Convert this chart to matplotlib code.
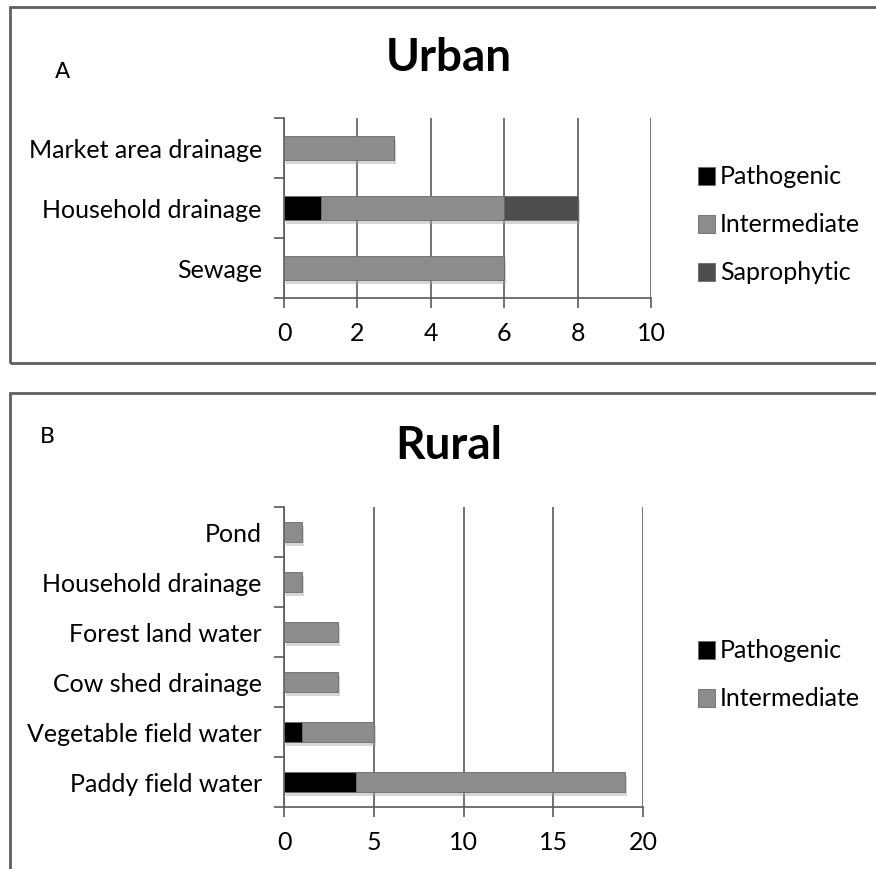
import numpy as np
import matplotlib.pyplot as plt
from matplotlib.patches import Rectangle, Patch
import matplotlib.patheffects as pe

plt.rcParams['font.family'] = ['Lato', 'DejaVu Sans']

# Urban data (bottom to top)
urban_categories = ["Sewage", "Household drainage", "Market area drainage"]
urban_pathogenic = [0, 1, 0]
urban_intermediate = [6, 5, 3]
urban_saprophytic = [0, 2, 0]

# Rural data (bottom to top)
rural_categories = ["Paddy field water", "Vegetable field water", "Cow shed drainage",
                    "Forest land water", "Household drainage", "Pond"]
rural_pathogenic = [4, 1, 0, 0, 0, 0]
rural_intermediate = [15, 4, 3, 3, 1, 1]

col_path = "#000000"
col_inter = "#8c8c8c"
col_sapro = "#4d4d4d"
grid_col = "#5a5a5a"

W, H = 876, 869
fig = plt.figure(figsize=(W / 100, H / 100), dpi=100)


def fx(px):
    return px / W


def fy(py):
    return 1 - py / H


shadow = [pe.SimplePatchShadow(offset=(1.5, -3), shadow_rgbFace="0.65", alpha=0.45), pe.Normal()]


def draw_panel(rect, cats, series, xmax, step):
    ax = fig.add_axes(rect)
    y = np.arange(len(cats))
    left = np.zeros(len(cats))
    for vals, c in series:
        vals = np.array(vals, dtype=float)
        bars = ax.barh(y, vals, left=left, height=0.4, color=c, edgecolor="#6a6a6a",
                       linewidth=0.6, zorder=3)
        for b in bars:
            b.set_path_effects(shadow)
        left += vals
    ax.set_xlim(0, xmax)
    ax.set_ylim(-0.5, len(cats) - 0.5)
    ax.set_xticks(np.arange(0, xmax + step, step))
    ax.set_yticks(y)
    ax.set_yticklabels(cats)
    ax.set_yticks(np.arange(-0.5, len(cats), 1.0), minor=True)
    ax.tick_params(axis="y", which="major", length=0, pad=16, labelsize=18)
    ax.tick_params(axis="y", which="minor", length=7, color=grid_col, width=1.2)
    ax.tick_params(axis="x", length=7, color=grid_col, width=1.2, labelsize=18, pad=10)
    ax.grid(axis="x", color=grid_col, linewidth=1.2, zorder=0)
    for s in ["top", "right"]:
        ax.spines[s].set_visible(False)
    for s in ["left", "bottom"]:
        ax.spines[s].set_color(grid_col)
        ax.spines[s].set_linewidth(1.2)
    return ax


# Panel A
axA = draw_panel([fx(284), fy(298), fx(651) - fx(284), fy(118) - fy(298)],
                 urban_categories,
                 [(urban_pathogenic, col_path), (urban_intermediate, col_inter),
                  (urban_saprophytic, col_sapro)], 10, 2)

# Panel B
axB = draw_panel([fx(284), fy(807), fx(643) - fx(284), fy(507) - fy(807)],
                 rural_categories,
                 [(rural_pathogenic, col_path), (rural_intermediate, col_inter)], 20, 5)

# panel borders
fig.patches.append(Rectangle((fx(10), fy(363)), 1.0, fy(7) - fy(363), transform=fig.transFigure,
                             fill=False, edgecolor="#5f5f5f", linewidth=2))
fig.patches.append(Rectangle((fx(10), fy(880)), 1.0, fy(393) - fy(880), transform=fig.transFigure,
                             fill=False, edgecolor="#5f5f5f", linewidth=2))

fig.text(fx(449), fy(58), "Urban", fontsize=33, fontweight="bold", ha="center", va="center")
fig.text(fx(449), fy(446), "Rural", fontsize=33, fontweight="bold", ha="center", va="center")
fig.text(fx(62), fy(72), "A", fontsize=16, ha="center", va="center", family="DejaVu Sans")
fig.text(fx(47), fy(437), "B", fontsize=16, ha="center", va="center", family="DejaVu Sans")

names = ["Pathogenic", "Intermediate", "Saprophytic"]
colors = [col_path, col_inter, col_sapro]
hA = [Patch(facecolor=c, edgecolor="#6a6a6a", linewidth=0.6) for c in colors]
fig.legend(hA, names, loc="center left", bbox_to_anchor=(fx(675), fy(225)), frameon=False,
           fontsize=18, handlelength=0.7, handleheight=0.7, handletextpad=0.2, labelspacing=1.0)
hB = [Patch(facecolor=c, edgecolor="#6a6a6a", linewidth=0.6) for c in colors[:2]]
fig.legend(hB, names[:2], loc="center left", bbox_to_anchor=(fx(675), fy(675)), frameon=False,
           fontsize=18, handlelength=0.7, handleheight=0.7, handletextpad=0.2, labelspacing=1.0)

fig.savefig("out.png", dpi=100)
